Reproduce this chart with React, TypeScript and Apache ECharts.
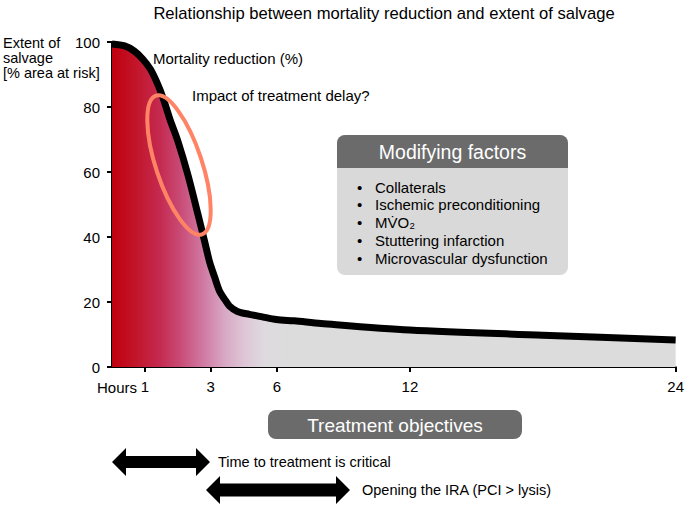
import React, { useEffect, useRef } from "react";
import * as echarts from "echarts";

// Curve (hours vs. salvage %)
const hours = [0, 0.385, 0.68, 0.94, 1.17, 1.37, 1.55, 1.77, 2.01, 2.31, 2.62, 2.82, 2.97, 3.18, 3.4, 3.63, 3.85, 4.21, 4.75, 5.29, 5.97, 6.78, 7.99, 11.99, 18, 24];
const salvage = [99.4, 98.8, 97.2, 94.7, 91.6, 87.5, 82.9, 76.0, 69.3, 59.1, 46.8, 38.6, 32.3, 27.7, 23.4, 20.9, 18.8, 17.1, 16.2, 15.5, 14.6, 14.2, 13.4, 11.4, 9.8, 8.3];

const tickHours = [1, 3, 6, 12, 24];
const tickLabels = ["1", "3", "6", "12", "24"];
const yTicks = [0, 20, 40, 60, 80, 100];

const modifyingFactors = [
  "Collaterals",
  "Ischemic preconditioning",
  "MV\u0307O\u2082",
  "Stuttering infarction",
  "Microvascular dysfunction",
];

const titleText = "Relationship between mortality reduction and extent of salvage";
const yNameLines = ["Extent of", "salvage", "[% area at risk]"];

// the original time axis is stretched for the first 3 hours
const pos = (h: number) => (h <= 3 ? h * 33 : 99 + (h - 3) * 22.24);

const FONT = "Liberation Sans, Arial, Helvetica, sans-serif";

function arrow(x1: number, x2: number, yc: number, hl: number, hh: number, sh: number) {
  return [
    [x1, yc],
    [x1 + hl, yc - hh],
    [x1 + hl, yc - sh],
    [x2 - hl, yc - sh],
    [x2 - hl, yc - hh],
    [x2, yc],
    [x2 - hl, yc + hh],
    [x2 - hl, yc + sh],
    [x1 + hl, yc + sh],
    [x1 + hl, yc + hh],
  ];
}

export default function App() {
  const ref = useRef<HTMLDivElement>(null);
  useEffect(() => {
    document.body.style.margin = "0";
    const chart = echarts.init(ref.current!, null, { renderer: "svg" });
    const tickPos = tickHours.map(pos);
    const txt = (x: number, y: number, text: string, fs: number, extra: any = {}) => ({
      type: "text",
      x,
      y,
      z: 50,
      style: {
        text,
        font: `${fs}px ${FONT}`,
        fill: extra.fill || "#000",
        textAlign: extra.align || "left",
        textVerticalAlign: "middle",
      },
    });
    const graphic: any[] = [
      txt(384, 13.5, titleText, 16.6, { align: "center" }),
      ...yNameLines.map((t, i) => txt(3, 42.5 + i * 15.3, t, 14.5)),
      txt(137, 387, "Hours", 15, { align: "right" }),
      txt(153, 58, "Mortality reduction (%)", 15),
      txt(192, 95, "Impact of treatment delay?", 15),
      {
        type: "ellipse",
        x: 179,
        y: 165,
        rotation: 0.32,
        z: 60,
        shape: { cx: 0, cy: 0, rx: 23, ry: 73 },
        style: { fill: "none", stroke: "#ff8466", lineWidth: 4 },
      },
      {
        type: "rect",
        z: 40,
        shape: { x: 337, y: 135, width: 231, height: 140, r: 8 },
        style: { fill: "#d9d9d9" },
      },
      {
        type: "rect",
        z: 41,
        shape: { x: 337, y: 135, width: 231, height: 33, r: [8, 8, 0, 0] },
        style: { fill: "#6b6b6b" },
      },
      txt(452.5, 152, "Modifying factors", 19.5, { align: "center", fill: "#fff" }),
      ...modifyingFactors.flatMap((t, i) => [
        txt(357, 187 + i * 17.8, "\u2022", 15),
        txt(375, 187 + i * 17.8, t, 15),
      ]),
      {
        type: "rect",
        z: 40,
        shape: { x: 268, y: 410, width: 254, height: 29, r: 8 },
        style: { fill: "#6b6b6b" },
      },
      txt(395, 425, "Treatment objectives", 19, { align: "center", fill: "#fff" }),
      {
        type: "polygon",
        z: 40,
        shape: { points: arrow(112, 210, 462, 14, 14, 6) },
        style: { fill: "#000" },
      },
      txt(218, 462, "Time to treatment is critical", 14.5),
      {
        type: "polygon",
        z: 40,
        shape: { points: arrow(206, 350, 490, 14, 14, 6.5) },
        style: { fill: "#000" },
      },
      txt(362, 490, "Opening the IRA (PCI > lysis)", 14.5),
    ];

    chart.setOption({
      animation: false,
      grid: { left: 112, right: 9, top: 42, bottom: 139 },
      xAxis: {
        type: "value",
        min: 0,
        max: pos(24),
        splitLine: { show: false },
        axisLine: { show: true, lineStyle: { color: "#000", width: 2 } },
        axisTick: { show: true, customValues: tickPos, length: 5, lineStyle: { color: "#000", width: 2 } },
        axisLabel: {
          customValues: tickPos,
          margin: 12,
          fontSize: 15,
          fontFamily: FONT,
          color: "#000",
          formatter: (v: number) => {
            let best = 0;
            tickPos.forEach((p, i) => {
              if (Math.abs(p - v) < Math.abs(tickPos[best] - v)) best = i;
            });
            return tickLabels[best];
          },
        },
      },
      yAxis: {
        type: "value",
        min: yTicks[0],
        max: yTicks[yTicks.length - 1],
        interval: 20,
        splitLine: { show: false },
        axisLine: { show: true, lineStyle: { color: "#000", width: 2 } },
        axisTick: { show: true, length: 5, lineStyle: { color: "#000", width: 2 } },
        axisLabel: { margin: 12, fontSize: 15, fontFamily: FONT, color: "#000" },
      },
      series: [
        {
          type: "line",
          data: hours.map((h, i) => [pos(h), salvage[i]]),
          showSymbol: false,
          smooth: 0.3,
          clip: false,
          z: 3,
          lineStyle: { color: "#000", width: 7, cap: "butt", join: "round" },
          areaStyle: {
            opacity: 1,
            color: new echarts.graphic.LinearGradient(0, 0, 1, 0, [
              { offset: 0, color: "#c0000f" },
              { offset: 0.04, color: "#c21428" },
              { offset: 0.085, color: "#c42a50" },
              { offset: 0.12, color: "#c84a74" },
              { offset: 0.164, color: "#d07ca4" },
              { offset: 0.2, color: "#d8a8c4" },
              { offset: 0.235, color: "#dec6d6" },
              { offset: 0.27, color: "#dedadf" },
              { offset: 0.32, color: "#dcdcdc" },
              { offset: 1, color: "#dcdcdc" },
            ]),
          },
        },
      ],
      graphic,
    });
    return () => chart.dispose();
  }, []);
  return <div ref={ref} style={{ width: 687, height: 506 }} />;
}
